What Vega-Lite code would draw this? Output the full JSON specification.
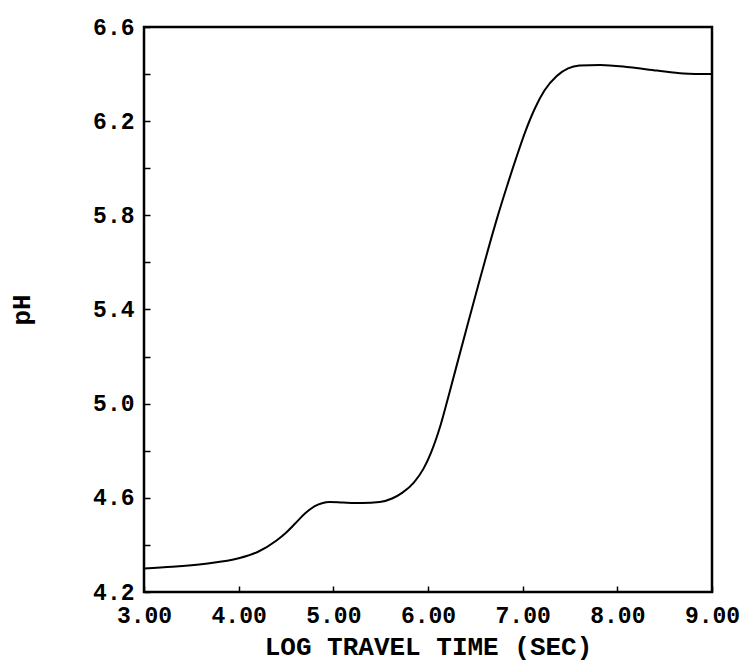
{
  "$schema": "https://vega.github.io/schema/vega-lite/v6.json",
  "width": 568,
  "height": 565,
  "autosize": "none",
  "padding": {"left": 144, "top": 27, "right": 31, "bottom": 71},
  "background": "white",
  "config": {
    "view": {"stroke": "black", "strokeWidth": 2.5},
    "font": "Liberation Mono",
    "axis": {
      "grid": false,
      "domain": false,
      "tickColor": "black",
      "tickWidth": 1.5,
      "tickSize": -6,
      "labelFont": "Liberation Mono",
      "labelFontWeight": "bold",
      "labelFontSize": 23,
      "labelColor": "black",
      "titleFont": "Liberation Mono",
      "titleFontWeight": "bold",
      "titleFontSize": 26,
      "titleColor": "black"
    }
  },
  "data": {
    "values": [
      {"t": 3.00, "ph": 4.300},
      {"t": 3.30, "ph": 4.307},
      {"t": 3.65, "ph": 4.320},
      {"t": 4.00, "ph": 4.343},
      {"t": 4.20, "ph": 4.370},
      {"t": 4.40, "ph": 4.419},
      {"t": 4.50, "ph": 4.452},
      {"t": 4.60, "ph": 4.492},
      {"t": 4.70, "ph": 4.533},
      {"t": 4.80, "ph": 4.564},
      {"t": 4.88, "ph": 4.577},
      {"t": 4.96, "ph": 4.582},
      {"t": 5.10, "ph": 4.580},
      {"t": 5.30, "ph": 4.578},
      {"t": 5.49, "ph": 4.582},
      {"t": 5.62, "ph": 4.597},
      {"t": 5.73, "ph": 4.622},
      {"t": 5.85, "ph": 4.665},
      {"t": 5.95, "ph": 4.722},
      {"t": 6.03, "ph": 4.790},
      {"t": 6.13, "ph": 4.905},
      {"t": 6.23, "ph": 5.052},
      {"t": 6.33, "ph": 5.203},
      {"t": 6.43, "ph": 5.353},
      {"t": 6.53, "ph": 5.502},
      {"t": 6.63, "ph": 5.648},
      {"t": 6.73, "ph": 5.788},
      {"t": 6.83, "ph": 5.918},
      {"t": 6.93, "ph": 6.042},
      {"t": 7.03, "ph": 6.158},
      {"t": 7.13, "ph": 6.255},
      {"t": 7.23, "ph": 6.330},
      {"t": 7.36, "ph": 6.392},
      {"t": 7.48, "ph": 6.424},
      {"t": 7.60, "ph": 6.436},
      {"t": 7.82, "ph": 6.439},
      {"t": 8.13, "ph": 6.429},
      {"t": 8.42, "ph": 6.415},
      {"t": 8.70, "ph": 6.403},
      {"t": 9.00, "ph": 6.400}
    ]
  },
  "mark": {"type": "line", "color": "black", "strokeWidth": 2, "interpolate": "monotone"},
  "encoding": {
    "x": {
      "field": "t",
      "type": "quantitative",
      "scale": {"domain": [3, 9], "nice": false, "zero": false},
      "axis": {
        "title": "LOG TRAVEL TIME (SEC)",
        "values": [3, 4, 5, 6, 7, 8, 9],
        "format": ".2f",
        "labelPadding": 18,
        "titlePadding": 6,
        "labelFlush": false
      }
    },
    "y": {
      "field": "ph",
      "type": "quantitative",
      "scale": {"domain": [4.2, 6.6], "nice": false, "zero": false},
      "axis": {
        "title": "pH",
        "values": [4.2, 4.4, 4.6, 4.8, 5.0, 5.2, 5.4, 5.6, 5.8, 6.0, 6.2, 6.4, 6.6],
        "labelExpr": "round(datum.value*10) % 4 == 2 ? format(datum.value, '.1f') : ''",
        "labelPadding": 16,
        "labelFlush": false,
        "titlePadding": 58
      }
    }
  }
}
